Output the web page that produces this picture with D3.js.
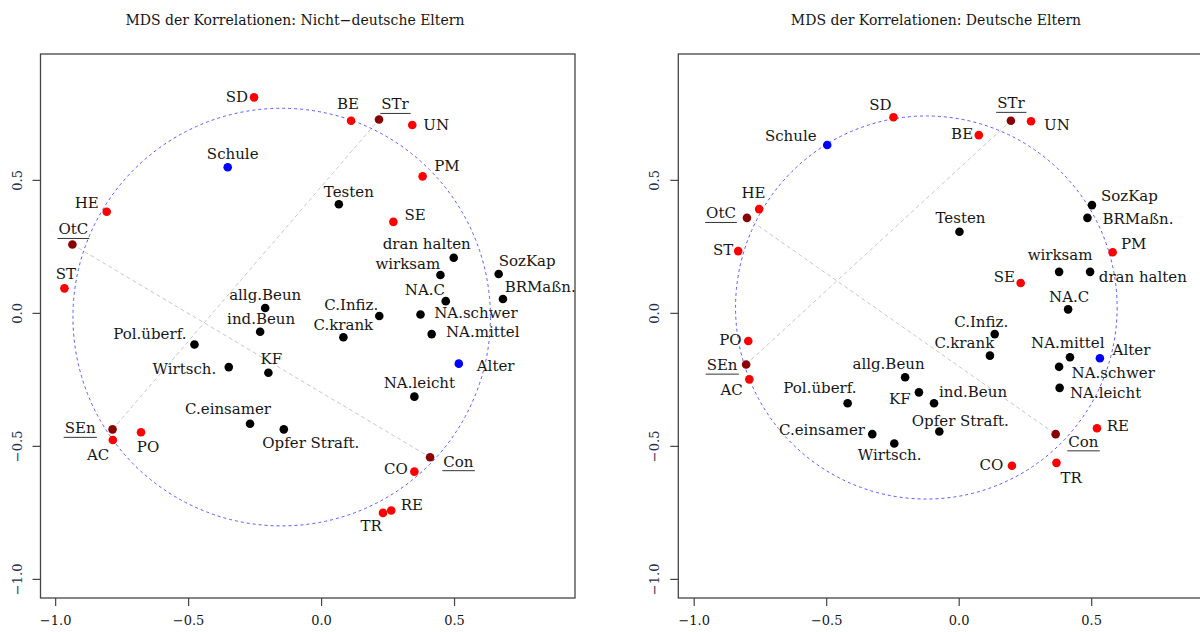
<!DOCTYPE html>
<html>
  <head>
    <meta charset="utf-8">
    <script src="https://d3js.org/d3.v7.min.js"></script>
    <style>
      body { margin: 0; background: #fff; }
      text { font-family: "DejaVu Serif", serif; fill: #161616; }
      .box { fill: none; stroke: #444; stroke-width: 1.3; }
      .tick { stroke: #444; stroke-width: 1.2; }
      .kreis { fill: none; stroke: #5a5aff; stroke-width: 1; stroke-dasharray: 3,3; }
      .achse { stroke: #c8c8c8; stroke-width: 1; stroke-dasharray: 4,3; }
    </style>
  </head>
  <body>
    <svg width="1200" height="632"></svg>
    <script>
      // Daten
      var labels = ["SD", "Schule", "HE", "OtC", "ST", "allg.Beun", "ind.Beun", "Pol.überf.", "Wirtsch.", "KF",
        "C.einsamer", "Opfer Straft.", "SEn", "AC", "PO", "BE", "STr", "UN", "PM", "Testen",
        "SE", "dran halten", "wirksam", "SozKap", "NA.C", "BRMaßn.", "C.Infiz.", "NA.schwer", "C.krank", "NA.mittel",
        "Alter", "NA.leicht", "Con", "CO", "RE", "TR"];

      // Gruppen: r = Items (rot), z = Zentren (dunkelrot), p = Person (blau), v = Variablen (schwarz)
      var gruppe = ["r", "p", "r", "z", "r", "v", "v", "v", "v", "v",
        "v", "v", "z", "r", "r", "r", "z", "r", "r", "v",
        "r", "v", "v", "v", "v", "v", "v", "v", "v", "v",
        "p", "v", "z", "r", "r", "r"];

      var xNichtDeutsch = [-0.254, -0.353, -0.808, -0.937, -0.967, -0.212, -0.231, -0.478, -0.349, -0.200,
        -0.269, -0.142, -0.786, -0.785, -0.679, 0.111, 0.216, 0.341, 0.380, 0.065,
        0.270, 0.497, 0.447, 0.666, 0.467, 0.682, 0.217, 0.372, 0.082, 0.414,
        0.516, 0.349, 0.408, 0.349, 0.262, 0.231];
      var yNichtDeutsch = [0.812, 0.549, 0.382, 0.259, 0.094, 0.020, -0.069, -0.117, -0.202, -0.223,
        -0.415, -0.436, -0.436, -0.476, -0.447, 0.724, 0.729, 0.708, 0.515, 0.410,
        0.344, 0.209, 0.144, 0.148, 0.046, 0.054, -0.010, -0.004, -0.090, -0.078,
        -0.189, -0.313, -0.541, -0.595, -0.741, -0.750];

      var xDeutsch = [-0.248, -0.498, -0.755, -0.801, -0.834, -0.204, -0.095, -0.421, -0.245, -0.152,
        -0.328, -0.075, -0.804, -0.792, -0.796, 0.074, 0.195, 0.271, 0.579, 0.001,
        0.232, 0.494, 0.377, 0.501, 0.411, 0.484, 0.134, 0.377, 0.116, 0.418,
        0.531, 0.379, 0.364, 0.199, 0.520, 0.367];
      var yDeutsch = [0.737, 0.633, 0.392, 0.359, 0.234, -0.240, -0.338, -0.338, -0.489, -0.297,
        -0.454, -0.444, -0.192, -0.248, -0.104, 0.670, 0.724, 0.722, 0.230, 0.307,
        0.114, 0.156, 0.156, 0.407, 0.015, 0.359, -0.078, -0.201, -0.159, -0.165,
        -0.169, -0.280, -0.454, -0.573, -0.432, -0.562];

      // Kreis: Mittelpunkt x, y und Radius
      var kreisNichtDeutsch = [-0.150, -0.014, 0.785];
      var kreisDeutsch = [-0.124, 0.022, 0.720];

      // Achsen zwischen den Zentren
      var achsenPaare = [["OtC", "Con"], ["SEn", "STr"]];

      var tickWerte = [-1.0, -0.5, 0.0, 0.5];
      var titel = ["MDS der Korrelationen:  Nicht\u2212deutsche Eltern", "MDS der Korrelationen: Deutsche Eltern"];

      var farben = { r: "#ff0000", z: "#8b0000", p: "#0000ff", v: "#000000" };

      // Beschriftungspositionen [anker, dx, dy] relativ zum Punkt
      var posNichtDeutsch = {
        "SD": ["end", -6, 5], "Schule": ["middle", 5, -8], "HE": ["end", -8, -4], "OtC": ["middle", 1, -10],
        "ST": ["middle", 1.5, -9], "allg.Beun": ["middle", 0, -8], "ind.Beun": ["middle", 1, -8],
        "Pol.überf.": ["end", -8, -5], "Wirtsch.": ["end", -12.5, 7], "KF": ["middle", 3, -9],
        "C.einsamer": ["middle", -22, -10], "Opfer Straft.": ["start", -21.5, 19], "SEn": ["end", -17, 4],
        "AC": ["end", -3.5, 20.5], "PO": ["middle", 7, 20], "BE": ["middle", -3, -11.4], "STr": ["middle", 16, -10],
        "UN": ["start", 11, 5], "PM": ["start", 11.6, -5.6], "Testen": ["middle", 10, -7], "SE": ["start", 11, -1.7],
        "dran halten": ["middle", -27, -8.4], "wirksam": ["end", -0.3, -5.7], "SozKap": ["start", 0, -8],
        "NA.C": ["end", -0.7, -6], "BRMaßn.": ["start", 1.7, -7.3], "C.Infiz.": ["end", -1, -6],
        "NA.schwer": ["start", 13.7, 4], "C.krank": ["middle", 0, -7.3], "NA.mittel": ["start", 14.3, 2.7],
        "Alter": ["start", 18, 7.3], "NA.leicht": ["middle", 5, -9], "Con": ["start", 13.3, 9.4],
        "CO": ["end", -6.6, 2.3], "RE": ["start", 9.4, -0.3], "TR": ["end", -1.3, 18.3]
      };
      var posDeutsch = {
        "SD": ["middle", -13, -7.3], "Schule": ["end", -10.6, -4.3], "HE": ["middle", -5.6, -10.7],
        "OtC": ["end", -11, 0.6], "ST": ["end", -5, 4], "PO": ["end", -6.6, 4], "SEn": ["end", -8.6, 5.7],
        "AC": ["end", -6.6, 15.7], "allg.Beun": ["middle", -16.6, -8.7], "Pol.überf.": ["middle", -27.7, -10.6],
        "KF": ["end", -8.3, 11.7], "C.einsamer": ["end", -7.3, 1], "Wirtsch.": ["middle", -4.6, 16.7],
        "ind.Beun": ["start", 5, -6.6], "Opfer Straft.": ["middle", 21, -5.3], "C.Infiz.": ["middle", -13.5, -7.3],
        "C.krank": ["end", 4.3, -7.4], "NA.mittel": ["middle", -2.2, -9], "NA.schwer": ["start", 12.4, 11.6],
        "NA.leicht": ["start", 10.3, 10.6], "Alter": ["start", 12.7, -3.3], "Con": ["start", 12.6, 12.7],
        "RE": ["start", 9.7, 2.4], "TR": ["middle", 14.6, 20.6], "CO": ["end", -8.7, 4.3],
        "NA.C": ["middle", 1, -7.6], "STr": ["middle", 0, -12.4], "UN": ["start", 13, 8.7], "BE": ["end", -5.7, 4],
        "SozKap": ["start", 9, -4.3], "BRMaßn.": ["start", 15, 6.3], "PM": ["start", 8.3, -2.7],
        "Testen": ["middle", 1, -8.4], "wirksam": ["middle", 1, -11.7], "dran halten": ["start", 8.7, 10.6],
        "SE": ["end", -5.7, -1.3]
      };

      var svg = d3.select("svg");

      function panel(xs, ys, kreis, pos, t, box, xDom, yDom, titelX) {
        var x = d3.scaleLinear().domain(xDom).range([box[0], box[1]]);
        var y = d3.scaleLinear().domain(yDom).range([box[3], box[2]]);
        var g = svg.append("g");

        // Titel
        g.append("text").attr("x", titelX).attr("y", 25)
          .attr("text-anchor", "middle").style("font-size", "14px").text(t);

        // Kreis
        g.append("ellipse").attr("class", "kreis")
          .attr("cx", x(kreis[0])).attr("cy", y(kreis[1]))
          .attr("rx", x(kreis[2]) - x(0)).attr("ry", y(0) - y(kreis[2]));

        // Achsen
        achsenPaare.forEach(function(p) {
          var a = labels.indexOf(p[0]), b = labels.indexOf(p[1]);
          g.append("line").attr("class", "achse")
            .attr("x1", x(xs[a])).attr("y1", y(ys[a]))
            .attr("x2", x(xs[b])).attr("y2", y(ys[b]));
        });

        // Punkte
        g.selectAll("circle.pt").data(labels).enter().append("circle")
          .attr("class", "pt")
          .attr("cx", function(d, i) { return x(xs[i]); })
          .attr("cy", function(d, i) { return y(ys[i]); })
          .attr("r", 4.3)
          .attr("fill", function(d, i) { return farben[gruppe[i]]; });

        // Beschriftungen
        labels.forEach(function(d, i) {
          var p = pos[d];
          var tx = g.append("text")
            .attr("x", x(xs[i]) + p[1]).attr("y", y(ys[i]) + p[2])
            .attr("text-anchor", p[0]).style("font-size", "15px").text(d);
          if (gruppe[i] === "z") {
            var bb = tx.node().getBBox();
            g.append("line").attr("stroke", "#333").attr("stroke-width", 1)
              .attr("x1", bb.x - 1).attr("x2", bb.x + bb.width + 1)
              .attr("y1", y(ys[i]) + p[2] + 4).attr("y2", y(ys[i]) + p[2] + 4);
          }
        });

        // Rahmen
        g.append("rect").attr("class", "box")
          .attr("x", box[0]).attr("y", box[2])
          .attr("width", box[1] - box[0]).attr("height", box[3] - box[2]);

        // x-Achse
        tickWerte.forEach(function(v) {
          g.append("line").attr("class", "tick")
            .attr("x1", x(v)).attr("x2", x(v)).attr("y1", box[3]).attr("y2", box[3] + 8);
          g.append("text").attr("x", x(v)).attr("y", 625)
            .attr("text-anchor", "middle").style("font-size", "13px")
            .text(d3.format(".1f")(v).replace("-", "\u2212"));
        });

        // y-Achse
        tickWerte.forEach(function(v) {
          g.append("line").attr("class", "tick")
            .attr("x1", box[0]).attr("x2", box[0] - 8).attr("y1", y(v)).attr("y2", y(v));
          g.append("text")
            .attr("transform", "translate(" + (box[0] - 19) + "," + y(v) + ") rotate(-90)")
            .attr("text-anchor", "middle").style("font-size", "13px").style("fill", "#1c2c4c")
            .text(d3.format(".1f")(v).replace("-", "\u2212"));
        });
      }

      panel(xNichtDeutsch, yNichtDeutsch, kreisNichtDeutsch, posNichtDeutsch, titel[0],
        [40.5, 575, 54, 598], [-1.057, 0.953], [-1.070, 0.975], 295);
      panel(xDeutsch, yDeutsch, kreisDeutsch, posDeutsch, titel[1],
        [678.3, 1212.8, 54, 598], [-1.060, 0.957], [-1.070, 0.975], 936);
    </script>
  </body>
</html>
